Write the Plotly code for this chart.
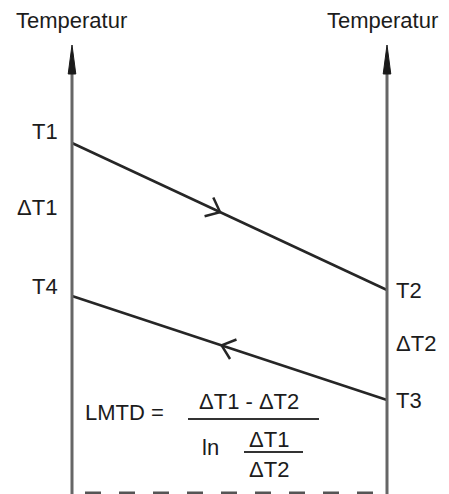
import math
import plotly.graph_objects as go

WIN_W, WIN_H = 449, 494
OFF = 8                      # default body margin of the html page
W, H = WIN_W - OFF, WIN_H - OFF

# ---- data (diagram values, arbitrary temperature units) ----
positions = [0, 1]                 # inlet / outlet of the exchanger
hot_temps = [351, 204]             # T1 -> T2
cold_temps = [198, 94]             # T4 <- T3
hot_labels = ["T1", "T2"]
cold_labels = ["T4", "T3"]
delta_labels = ["ΔT1", "ΔT2"]
axis_title = "Temperatur"
formula_lhs = "LMTD ="
formula_num = "ΔT1 - ΔT2"
formula_ln = "ln"
formula_sub_num = "ΔT1"
formula_sub_den = "ΔT2"

# ---- window-pixel <-> data helpers (layout only) ----
X0_PX, X1_PX = 72, 387          # window pixels of the two temperature axes


def x_to_px(x):
    return X0_PX + x * (X1_PX - X0_PX)


def px_to_x(px):
    return (px - X0_PX) / (X1_PX - X0_PX)


def y_to_py(y):
    return WIN_H - y


def py_to_y(py):
    return WIN_H - py


XR = [px_to_x(OFF), px_to_x(OFF + W)]
YR = [py_to_y(OFF + H), py_to_y(OFF)]

FONT = dict(family="Liberation Sans, Arial, sans-serif", size=22, color="#1c1c1c")
LINE_C = "#262626"
AXIS_C = "#666666"

fig = go.Figure()

# stream lines
fig.add_trace(go.Scatter(x=positions, y=hot_temps, mode="lines",
                         line=dict(color=LINE_C, width=2.5), hoverinfo="skip"))
fig.add_trace(go.Scatter(x=positions, y=cold_temps, mode="lines",
                         line=dict(color=LINE_C, width=2.5), hoverinfo="skip"))

shapes = []

# vertical temperature axes with arrowheads
for xa in positions:
    shapes.append(dict(type="line", xref="x", yref="y", x0=xa, x1=xa,
                       y0=py_to_y(WIN_H + 4), y1=py_to_y(60),
                       line=dict(color=AXIS_C, width=3)))
    cx = x_to_px(xa)
    path = "M {} {} L {} {} L {} {} Z".format(
        px_to_x(cx), py_to_y(45),
        px_to_x(cx - 3.8), py_to_y(74),
        px_to_x(cx + 3.8), py_to_y(74))
    shapes.append(dict(type="path", xref="x", yref="y", path=path,
                       fillcolor="#1a1a1a", line=dict(color="#1a1a1a", width=1)))


# chevrons showing flow direction
def chevron(xs, ys, frac, forward=True, L=16, ang=40):
    p0 = (x_to_px(xs[0]), y_to_py(ys[0]))
    p1 = (x_to_px(xs[1]), y_to_py(ys[1]))
    dx, dy = p1[0] - p0[0], p1[1] - p0[1]
    n = math.hypot(dx, dy)
    dx, dy = dx / n, dy / n
    tip = (p0[0] + (p1[0] - p0[0]) * frac, p0[1] + (p1[1] - p0[1]) * frac)
    if not forward:
        dx, dy = -dx, -dy
    bx, by = -dx, -dy
    pts = []
    for s in (1, -1):
        a = math.radians(ang * s)
        rx = bx * math.cos(a) - by * math.sin(a)
        ry = bx * math.sin(a) + by * math.cos(a)
        pts.append((tip[0] + L * rx, tip[1] + L * ry))
    path = "M {} {} L {} {} L {} {}".format(
        px_to_x(pts[0][0]), py_to_y(pts[0][1]),
        px_to_x(tip[0]), py_to_y(tip[1]),
        px_to_x(pts[1][0]), py_to_y(pts[1][1]))
    return dict(type="path", xref="x", yref="y", path=path,
                line=dict(color=LINE_C, width=2.5))


shapes.append(chevron(positions, hot_temps, 0.47, forward=True))
shapes.append(chevron(positions, cold_temps, 0.475, forward=False))

# dashed baseline
shapes.append(dict(type="line", xref="x", yref="y",
                   x0=px_to_x(85), x1=px_to_x(378),
                   y0=py_to_y(493), y1=py_to_y(493),
                   line=dict(color="#555", width=3, dash="16px,18px")))

# fraction bars
shapes.append(dict(type="line", xref="x", yref="y",
                   x0=px_to_x(188), x1=px_to_x(319),
                   y0=py_to_y(419), y1=py_to_y(419),
                   line=dict(color="#333", width=2)))
shapes.append(dict(type="line", xref="x", yref="y",
                   x0=px_to_x(244), x1=px_to_x(303),
                   y0=py_to_y(452), y1=py_to_y(452),
                   line=dict(color="#333", width=2)))

annotations = []


def txt(text, px, py, xanchor="left"):
    annotations.append(dict(text=text, x=(px - OFF) / W, y=1 - (py - OFF) / H,
                            xref="paper", yref="paper", showarrow=False,
                            xanchor=xanchor, yanchor="middle", font=FONT,
                            borderpad=0))


txt(axis_title, 71.5, 20, "center")
txt(axis_title, 439, 20, "right")
txt(hot_labels[0], 31, y_to_py(hot_temps[0]) - 11)
txt(cold_labels[0], 31, y_to_py(cold_temps[0]) - 10)
txt(delta_labels[0], 58, (y_to_py(hot_temps[0]) + y_to_py(cold_temps[0])) / 2 - 12, "right")
txt(hot_labels[1], 395, y_to_py(hot_temps[1]))
txt(cold_labels[1], 395, y_to_py(cold_temps[1]))
txt(delta_labels[1], 395, (y_to_py(hot_temps[1]) + y_to_py(cold_temps[1])) / 2 - 2)
txt(formula_lhs, 84, 412)
txt(formula_num, 248.5, 401, "center")
txt(formula_ln, 201, 447)
txt(formula_sub_num, 269, 439, "center")
txt(formula_sub_den, 269, 469, "center")

fig.update_layout(
    width=W, height=H, margin=dict(l=0, r=0, t=0, b=0),
    paper_bgcolor="white", plot_bgcolor="white", showlegend=False,
    xaxis=dict(range=XR, visible=False, fixedrange=True),
    yaxis=dict(range=YR, visible=False, fixedrange=True),
    shapes=shapes, annotations=annotations,
)

fig.write_html("out.html")
